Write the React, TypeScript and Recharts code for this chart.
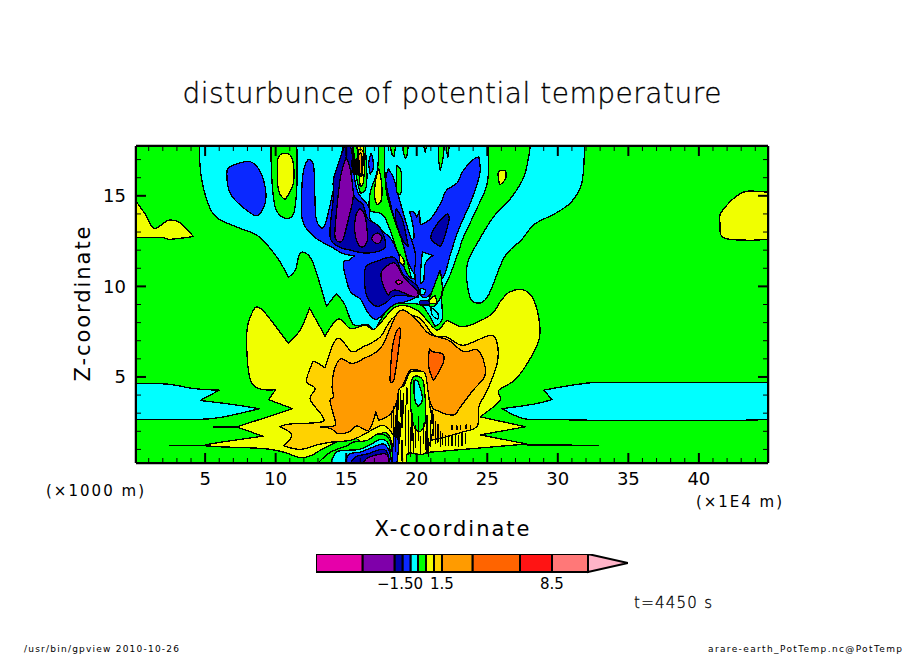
import React from 'react';
import { ScatterChart, Scatter, XAxis, YAxis, BarChart, Bar } from 'recharts';

type Pt = [number, number];

const CYAN = '#00ffff';
const GREEN = '#00ff00';
const YELLOW = '#f0ff00';
const GOLD = '#ffd200';
const ORANGE = '#ff9b00';
const DARK_ORANGE = '#ff6400';
const BLUE = '#0a28ff';
const NAVY = '#0000aa';
const PURPLE = '#7f00aa';
const MAGENTA = '#e600aa';

// axes
const xDomain: Pt = [0.1, 44.9];
const zDomain: Pt = [0.25, 17.75];
const xTicks = Array.from({ length: 44 }, (_, i) => i + 1);
const zTicks = Array.from({ length: 17 }, (_, i) => i + 1);

// contour outlines as [x, z]
const field: Pt[] = [[0.1, 0.25], [44.9, 0.25], [44.9, 17.75], [0.1, 17.75]];
const cyanUpper: Pt[] = [[4.6, 17.75], [4.7, 16.2], [5.2, 14.6], [5.9, 13.75], [7.5, 13.2], [8.8, 12.75], [10.1, 11.6], [10.9, 10.5], [11.4, 10.9], [11.7, 11.8], [12.2, 11.8], [12.7, 11.2], [13.6, 8.9], [14.3, 9.6], [14.9, 9], [15.5, 7.9], [16.5, 7.9], [17, 7.6], [17.4, 8.1], [18, 8.8], [18.5, 9.05], [20.2, 9], [20.8, 8.5], [21.3, 7.8], [21.8, 8.2], [21.8, 9.6], [22.4, 10.7], [23, 12], [23.3, 12.7], [24.2, 14.2], [25, 15.7], [25.1, 17.75]];
const cyanRight: Pt[] = [[28.05, 17.75], [31.9, 17.75], [31.7, 15.7], [31, 14.7], [30.2, 14.2], [29.5, 13.9], [28.3, 13.4], [27.4, 12.55], [26.2, 11.6], [25, 9.4], [24, 9.15], [23.6, 10], [23.6, 11.3], [24.3, 12.4], [25.45, 13.85], [26.6, 14.8], [27.6, 16.05]];
const cyanLowLeft: Pt[] = [[0.1, 4.64], [2.4, 4.6], [4.17, 4.36], [6, 4.27], [4.65, 3.7], [6.77, 3.5], [8.85, 3.25], [6.06, 2.76], [4.17, 2.65], [0.1, 2.65]];
const cyanLowRight: Pt[] = [[44.9, 4.64], [43.65, 4.7], [33.7, 4.7], [31.5, 4.6], [29, 4.27], [29.6, 3.75], [28.3, 3.5], [26.05, 3.25], [27.6, 2.7], [29.6, 2.65], [34, 2.6], [41.8, 2.6], [44.9, 2.65]];
const yellowLeft: Pt[] = [[0.1, 14.7], [0.74, 14], [1.38, 13.2], [2.4, 13.65], [3.23, 13.5], [4.17, 12.75], [2.5, 12.6], [1.93, 12.7], [0.1, 12.7]];
const yellowRight: Pt[] = [[44.9, 15.2], [43.4, 15.25], [42.7, 15], [42, 14.5], [41.5, 13.95], [41.5, 13.5], [41.7, 12.7], [43.4, 12.55], [44.9, 12.6]];
const yellowSpot: Pt[] = [[25.8, 16.35], [26.3, 16.4], [26.3, 15.95], [25.9, 15.6], [25.8, 15.9]];
const blueBlob: Pt[] = [[6.54, 16.15], [6.77, 16.6], [8.07, 16.9], [8.78, 16.5], [9.25, 15.5], [9.25, 14.6], [8.66, 13.9], [7.48, 14.5], [6.77, 15.15]];
const greenColumn: Pt[] = [[9.66, 17.75], [9.73, 15.9], [9.96, 14.4], [10.55, 13.8], [11.26, 14], [11.5, 15.5], [11.5, 17.75]];
const yellowColumn: Pt[] = [[10.15, 17], [10.67, 17.35], [11.2, 17], [11.26, 15.7], [10.67, 14.8], [10.2, 15.3]];
const blueMain: Pt[] = [[12.3, 17], [12, 16.5], [11.85, 15.3], [11.9, 13.65], [12.7, 12.75], [13.9, 12.2], [14.8, 11.8], [15.6, 11.7], [15.2, 11.45], [14.8, 11.35], [14.9, 10.7], [15.3, 9.7], [16, 9.3], [16.5, 8.6], [17, 8.2], [17.4, 8.3], [18.4, 9], [19.2, 9.15], [20.06, 9.5], [19.9, 10.35], [19.4, 10.6], [18.7, 11.8], [18.2, 12.6], [17.5, 13.1], [16.7, 13.7], [16.6, 14.4], [15.9, 15.1], [15.6, 15.9], [15.5, 17], [15.45, 17.75], [14.8, 17.75], [14.2, 15.7], [13.6, 13.65], [13.3, 13.2], [12.85, 13.85], [12.7, 16.6]];
const blueRight: Pt[] = [[24.4, 17.15], [24.5, 16.4], [24.3, 15.7], [23.8, 14.6], [23, 13.2], [22.4, 11.8], [22, 10.7], [21.55, 10.15], [20.7, 9.4], [20.06, 9.7], [19.9, 10.35], [19.8, 11.35], [19.5, 12.4], [19.8, 12.7], [19.7, 13.5], [19.5, 14.1], [19.8, 14.1], [20, 13.8], [20.2, 14.2], [20.25, 13.4], [21, 13.75], [21.7, 14.6], [22.1, 15.3], [22.85, 15.7], [23.3, 16.4], [24, 17]];
const blueLobe: Pt[] = [[18, 16.5], [17.8, 15.9], [18, 15], [18.5, 13.5], [19, 12.4], [19.3, 11.5], [19.8, 10.7], [19.9, 11.8], [19.4, 13.1], [18.7, 15], [18.4, 15.9]];
const blueSmall: Pt[] = [[16.75, 17.35], [16.9, 17], [16.9, 16.45], [16.7, 16.2], [16.6, 16.8]];
const navyLeft: Pt[] = [[14.9, 17.75], [14.6, 17.15], [14.1, 15.9], [14.1, 14.95], [13.85, 12.8], [14.45, 12.2], [15.3, 12], [16.2, 11.85], [17.1, 11.9], [17.8, 12.2], [17.5, 13.1], [17.1, 13.45], [16.5, 13.75], [16.2, 14.5], [15.6, 14.95], [15.3, 15.9], [15.5, 16.8], [15.3, 17.75]];
const navyLower: Pt[] = [[16.35, 11], [17.05, 11.35], [18.4, 11.6], [19, 10.7], [20.06, 10], [20.1, 9.4], [18.5, 9.5], [17.9, 9.15], [17.2, 8.9], [16.6, 9.25], [16.35, 9.8]];
const navyRight: Pt[] = [[22.15, 14], [22.3, 13.75], [22, 12.8], [21.7, 12.2], [21, 12.65], [21.4, 13.4]];
const navyLobe: Pt[] = [[18.55, 14.3], [19, 13.65], [19.4, 12.2], [19, 12.55], [18.5, 13.65]];
const purpleOne: Pt[] = [[15, 17.15], [15.3, 16.4], [15.5, 15], [15.2, 13.85], [14.8, 12.65], [14.5, 12.45], [14.2, 12.75], [14.3, 14], [14.6, 16.05]];
const purpleTwo: Pt[] = [[16, 14.3], [16.35, 13.85], [16.5, 12.55], [16.1, 12.15], [15.8, 12.4], [15.6, 13.1], [15.7, 13.95]];
const purpleThree: Pt[] = [[17.2, 12.95], [17.55, 12.65], [17.2, 12.35], [16.8, 12.65]];
const purpleBig: Pt[] = [[17.5, 10.8], [18.4, 11.3], [19, 10.6], [19.5, 10.15], [20.06, 9.7], [19.9, 9.4], [18.5, 9.8], [18, 9.5], [17.65, 10]];
const magentaDot: Pt[] = [[18.5, 10.25], [18.7, 10.35], [19, 10.25], [18.7, 10.1]];
const greenStrip: Pt[] = [[17.3, 17.75], [17.2, 16.4], [16.7, 15.15], [16.7, 14.2], [17.7, 13.85], [18.7, 11.8], [19.4, 10.6], [19.6, 10.5], [19, 12.4], [18.5, 13.5], [17.9, 15], [17.75, 16.15], [17.7, 17.75]];
const yellowStrip: Pt[] = [[17.3, 16.5], [17.5, 15.8], [17.5, 14.8], [17.2, 14.5], [17, 15], [17.1, 15.9]];
const yellowNeck: Pt[] = [[18.8, 11.75], [19.1, 11.45], [19.07, 11.1], [18.8, 11.36]];
const greenTop: Pt[] = [[15.5, 17.75], [15.6, 16.9], [15.76, 15.9], [16, 15.15], [16.35, 15.3], [16.47, 16.07], [16.35, 17.75]];
const yellowTop: Pt[] = [[15.76, 17.75], [15.9, 16.25], [16, 15.5], [16.2, 15.7], [16.3, 16.8], [16.2, 17.75]];
const goldTop: Pt[] = [[15.85, 17.45], [16.2, 17.45], [16.2, 16.8], [16.1, 16.05], [15.9, 16.25]];
const orangeTop: Pt[] = [[15.9, 17.26], [16.1, 17.26], [16.1, 16.4], [16, 16.15], [15.9, 16.6]];
const blackTop: Pt[] = [[15.4, 16.97], [15.9, 16.97], [15.9, 16.25], [15.5, 16.25]];
const greenDrips: Pt[][] = [
  [[18.12, 17.75], [18.5, 17.75], [18.4, 17.15], [18.25, 17.3]],
  [[19.07, 17.75], [19.4, 17.75], [19.3, 17.2], [19.2, 17.05], [19.05, 17.4]],
  [[20.5, 17.75], [20.7, 17.75], [20.6, 17.4]],
  [[21.55, 17.75], [21.95, 17.75], [21.85, 17], [21.67, 16.4], [21.55, 17]],
  [[22.07, 17.75], [22.3, 17.75], [22.2, 17.1]],
  [[18.6, 16.7], [18.9, 16.3], [18.9, 15.2], [18.6, 15.2], [18.55, 16]],
  [[20.84, 9.2], [21.66, 10.9], [21.8, 9.7], [21.3, 8.95], [20.84, 8.95]],
];
const cyanHoles: Pt[][] = [
  [[20.4, 11.9], [21.15, 11.7], [20.6, 11.26], [20.5, 10.35], [20.25, 10.16], [20.3, 11.1]],
  [[20.25, 9.9], [20.6, 9.8], [20.5, 9.55], [20.25, 9.6]],
  [[21, 8.85], [21.5, 8.5], [21.5, 8.2], [21.1, 8.4]],
];
const yellowCap: Pt[] = [[20.9, 9.25], [21.3, 9.5], [21.4, 9.1], [21, 9.05]];
const navySpot: Pt[] = [[20.25, 9.2], [20.85, 9.2], [20.85, 9], [20.25, 9]];
const yellowMain: Pt[] = [[7.95, 7.4], [8.43, 8.7], [8.9, 8.8], [9.5, 8.3], [10.9, 6.85], [11.74, 7.6], [12.4, 8.8], [12.9, 8.1], [13.5, 7.25], [14.45, 8.2], [15.3, 7.67], [16.35, 7.85], [17.06, 7.67], [18.5, 8.87], [20, 8.7], [21.4, 7.6], [22.15, 8.1], [23.3, 7.77], [25.2, 8.4], [26, 9.24], [26.6, 9.7], [27.6, 9.8], [28.3, 9.24], [28.7, 8], [28.65, 7], [27.8, 5.7], [26.9, 4.8], [25.8, 4.25], [25.9, 3.7], [24.5, 2.8], [27.7, 2.25], [24.5, 1.8], [27.8, 1.3], [23.3, 1], [21, 0.85], [19.5, 0.77], [18.6, 0.4], [18, 1.8], [17.4, 1.85], [16.2, 1.4], [15.3, 1.7], [13.4, 1.05], [12.56, 0.68], [11.74, 0.55], [10.55, 0.85], [9.1, 1.05], [5.35, 1.17], [5.35, 1.3], [9.1, 1.73], [7.25, 2.24], [11.2, 3.25], [9.5, 3.75], [10, 4.3], [8.3, 4.67]];
const goldMain: Pt[] = [[12.8, 5.83], [13.5, 5.5], [14.1, 6.85], [14.6, 7.1], [15.4, 6.4], [16.2, 6.66], [17.4, 7.2], [18.4, 8.3], [20.1, 8.3], [21.2, 7.3], [22.15, 7.2], [23.3, 6.75], [25.2, 7.3], [25.7, 6.85], [25.7, 5.74], [25, 4.27], [24.4, 3.35], [24.3, 2.3], [23.3, 1.97], [21, 1.5], [19, 1.3], [18, 2.15], [17.4, 2.3], [16.2, 1.8], [15.3, 1.5], [13.9, 1.4], [12.9, 1.24], [11.74, 1], [10.55, 1.2], [11.15, 1.8], [10.3, 2.24], [11, 2.4], [13.15, 2.5], [13.35, 2.8], [12.45, 3.75], [12.8, 4.36], [12.2, 4.76], [12.56, 5.7]];
const orangeMain: Pt[] = [[14.6, 6], [15.4, 5.74], [16.2, 6], [17.5, 6.66], [18.7, 8.6], [19.8, 8.3], [20.85, 7.4], [22.25, 7.03], [23.3, 6.4], [24.3, 6.5], [24.8, 5.74], [24.8, 5], [24, 4.27], [23.1, 3.35], [22.6, 2.9], [21.4, 3.16], [21, 3.5], [20.6, 4.8], [20.25, 5.3], [19.55, 5.37], [19.07, 4.64], [18.7, 3.9], [18.2, 3], [17.3, 2.6], [17.1, 3.07], [16.6, 2.06], [15.76, 2.3], [15.2, 1.97], [14.45, 1.87], [13.9, 2.15], [13.15, 2.24], [14.2, 2.33], [14.1, 2.9], [13.85, 3.7], [14.1, 3.9], [14, 4.45], [14.15, 5.37]];
const darkOrangeOne: Pt[] = [[18.7, 7.67], [18.84, 7.4], [18.4, 4.9], [18.1, 4.8], [18.25, 6.5], [18.5, 7.4]];
const darkOrangeTwo: Pt[] = [[20.9, 6.57], [21.1, 6.4], [21.86, 6.25], [21.86, 5.74], [21.2, 4.8], [20.85, 5.56]];
const yellowDome: Pt[] = [[19.3, 4.9], [19.55, 5.28], [20.5, 5.28], [20.7, 4.8], [20.96, 3.25], [21.2, 2.3], [20.6, 0.8], [19.4, 0.8], [19.3, 0.25], [18.24, 0.25], [18.5, 2.5], [18.7, 4.2], [19.07, 4.5]];
const greenDome: Pt[] = [[19.7, 4.95], [20.4, 4.87], [20.6, 3.8], [20.6, 2.5], [20.25, 1.97], [19.8, 2.3], [19.54, 3.8]];
const cyanDome: Pt[] = [[19.8, 4.8], [20.1, 4.73], [20.4, 3.8], [20.1, 3.35], [19.85, 3.8]];
const blueColumn: Pt[] = [[18.6, 2.5], [18.8, 2.3], [18.7, 1], [18.6, 0.25], [18.24, 0.25], [18.36, 1.6]];
const blackColumn: Pt[] = [[18.67, 2.5], [18.83, 2.4], [18.8, 1.6], [18.6, 1.65]];
const greenBase: Pt[] = [[13, 0.25], [13.9, 0.85], [15.05, 1.2], [15.5, 1.4], [16.5, 1.5], [17.3, 1.86], [18.1, 1.5], [18.3, 0.25]];
const cyanBase: Pt[] = [[13.9, 0.25], [14.3, 0.85], [15.05, 0.95], [15.9, 1], [16.7, 1.25], [17.4, 1.55], [18, 1.3], [18.2, 0.25]];
const blueBase: Pt[] = [[14.9, 0.25], [15.25, 0.75], [16, 0.85], [16.6, 1.03], [17.65, 1.3], [18.1, 0.8], [18.2, 0.25]];
const navyBase: Pt[] = [[15.3, 0.25], [15.7, 0.6], [16.5, 0.75], [17.7, 1], [18.1, 0.25]];
const purpleBase: Pt[] = [[16.2, 0.25], [16.6, 0.57], [17.8, 0.75], [18, 0.25]];

// ringing in the lower middle: [x, lower z, upper z]
const ringing: [number, number, number][] = [
  [18.36, 1.5, 3.35], [18.6, 1.87, 3.72], [18.83, 2.8, 4.27], [19.07, 2.98, 4.08], [19.43, 0.77, 3.16], [19.66, 1.5, 2.98],
  [20.13, 1.5, 2.8], [20.49, 1.32, 2.43], [20.73, 0.77, 2.89], [19.78, 0.77, 1.87], [18.95, 0.4, 1.5], [20.96, 1.14, 2.61],
  [21.08, 2.43, 3.16], [21.32, 1.32, 2.52], [21.67, 1.14, 1.97], [22.03, 1.23, 1.78], [22.26, 1.23, 1.78], [22.5, 1.23, 1.78],
  [22.74, 1.23, 1.78], [22.97, 1.14, 1.78], [23.21, 1.23, 1.87], [23.44, 1.32, 1.87], [22.5, 2.1, 2.3], [22.85, 2.1, 2.3],
  [23.1, 2.1, 2.3], [23.5, 2.15, 2.35], [23.8, 2.1, 2.3],
  [18.2, 2.2, 3.1], [18.48, 0.9, 2.5], [18.72, 3.2, 4.3], [18.95, 2.2, 3.7], [19.2, 1.2, 3.4], [19.3, 3.5, 4.4], [19.55, 0.6, 2.2],
  [19.9, 1.1, 2.3], [20.25, 0.7, 1.7], [20.6, 1, 2], [20.85, 0.6, 1.6], [21.2, 1.8, 2.9], [21.5, 1.4, 2.4], [21.85, 1.3, 1.9],
];
// thin spikes
const spikes: Pt[][] = [
  [[2.5, 1.2], [3.2, 1.2]],
  [[3.2, 1.23], [5.4, 1.23]],
  [[5.6, 2.24], [7.25, 2.24]],
  [[27.8, 1.25], [31, 1.25]],
  [[31, 1.22], [32.9, 1.2]],
];

const layers: [Pt[], string][] = [
  [field, GREEN],
  [cyanUpper, CYAN], [cyanRight, CYAN], [cyanLowLeft, CYAN], [cyanLowRight, CYAN],
  [yellowLeft, YELLOW], [yellowRight, YELLOW], [yellowSpot, YELLOW],
  [blueBlob, BLUE], [greenColumn, GREEN], [yellowColumn, YELLOW],
  [blueMain, BLUE], [blueRight, BLUE], [blueLobe, BLUE], [blueSmall, BLUE],
  [navyLeft, NAVY], [navyLower, NAVY], [navyRight, NAVY], [navyLobe, NAVY],
  [purpleOne, PURPLE], [purpleTwo, PURPLE], [purpleThree, PURPLE], [purpleBig, PURPLE], [magentaDot, MAGENTA],
  [greenStrip, GREEN], [yellowStrip, YELLOW], [yellowNeck, YELLOW],
  [greenTop, GREEN], [yellowTop, YELLOW], [goldTop, GOLD], [orangeTop, ORANGE], [blackTop, '#000'],
  ...greenDrips.map((d): [Pt[], string] => [d, GREEN]),
  ...cyanHoles.map((d): [Pt[], string] => [d, CYAN]),
  [yellowCap, YELLOW], [navySpot, NAVY],
  [yellowMain, YELLOW], [goldMain, GOLD], [orangeMain, ORANGE], [darkOrangeOne, DARK_ORANGE], [darkOrangeTwo, DARK_ORANGE],
  [yellowDome, YELLOW], [greenDome, GREEN], [cyanDome, CYAN], [blueColumn, BLUE], [blackColumn, '#000'],
  [greenBase, GREEN], [cyanBase, CYAN], [blueBase, BLUE], [navyBase, NAVY], [purpleBase, PURPLE],
  ...ringing.map(([x, lo, hi]): [Pt[], string] => [[[x, lo], [x, hi]], '#000']),
  ...spikes.map((s): [Pt[], string] => [s, '#000']),
];

// colour bar
const bandLengths = [46.7, 32, 8, 8, 7.3, 8, 8, 8, 30.7, 47.3, 32, 36, 40];
const bandColors = [MAGENTA, PURPLE, NAVY, BLUE, CYAN, GREEN, YELLOW, GOLD, ORANGE, DARK_ORANGE, '#ff1414', '#ff7878', '#ffb4c8'];
const bandTicks = [84, 126, 236];
const bandLabels = ['\u22121.50', '1.5', '8.5'];
const bandRow: Record<string, number | string> = { name: 'levels' };
bandLengths.forEach((v, i) => { bandRow[`b${i}`] = v; });

const FONT = '"DejaVu Sans", sans-serif';

const noPoint = () => <g />;

const onEdge = ([x, z]: Pt) => x === xDomain[0] || x === xDomain[1] || z === zDomain[0] || z === zDomain[1];

// closed curve through the outline points, sharp turns and frame points stay corners
function curvePath(pts: { x: number; y: number }[], src: Pt[]) {
  const n = pts.length;
  if (n < 4) return pts.map((q, i) => `${i ? 'L' : 'M'}${q.x} ${q.y}`).join(' ') + ' Z';
  const tan = pts.map((q, i) => {
    const a = pts[(i + n - 1) % n];
    const b = pts[(i + 1) % n];
    const ux = q.x - a.x, uy = q.y - a.y, vx = b.x - q.x, vy = b.y - q.y;
    const cos = (ux * vx + uy * vy) / (Math.hypot(ux, uy) * Math.hypot(vx, vy) || 1);
    if (cos < -0.1 || onEdge(src[i])) return { x: 0, y: 0 };
    return { x: (b.x - a.x) / 6, y: (b.y - a.y) / 6 };
  });
  let d = `M${pts[0].x} ${pts[0].y}`;
  for (let i = 0; i < n; i++) {
    const j = (i + 1) % n;
    d += ` C${pts[i].x + tan[i].x} ${pts[i].y + tan[i].y} ${pts[j].x - tan[j].x} ${pts[j].y - tan[j].y} ${pts[j].x} ${pts[j].y}`;
  }
  return d + ' Z';
}

function outline(fill: string, src: Pt[]) {
  return (p: any) => (
    <path d={curvePath(p.points, src)} fill={fill} stroke="#000" strokeWidth={1.3} strokeLinejoin="round" shapeRendering="crispEdges" />
  );
}

const bottomTick = (p: any) => {
  const major = p.payload.value % 5 === 0;
  return (
    <g>
      <line x1={p.x} x2={p.x} y1={p.y} y2={p.y - (major ? 10 : 5)} stroke="#000" strokeWidth={major ? 2 : 1} />
      {major && <text x={p.x} y={p.y + 15} textAnchor="middle" dominantBaseline="central" fontSize={18} fontFamily={FONT}>{p.payload.value}</text>}
    </g>
  );
};
const topTick = (p: any) => {
  const major = p.payload.value % 5 === 0;
  return <line x1={p.x} x2={p.x} y1={p.y} y2={p.y + (major ? 10 : 5)} stroke="#000" strokeWidth={major ? 2 : 1} />;
};
const leftTick = (p: any) => {
  const major = p.payload.value % 5 === 0;
  return (
    <g>
      <line x1={p.x} x2={p.x + (major ? 10 : 5)} y1={p.y} y2={p.y} stroke="#000" strokeWidth={major ? 2 : 1} />
      {major && <text x={p.x - 10} y={p.y} textAnchor="end" dominantBaseline="central" fontSize={18} fontFamily={FONT}>{p.payload.value}</text>}
    </g>
  );
};
const rightTick = (p: any) => {
  const major = p.payload.value % 5 === 0;
  return <line x1={p.x} x2={p.x - (major ? 10 : 5)} y1={p.y} y2={p.y} stroke="#000" strokeWidth={major ? 2 : 1} />;
};

const tipShape = (p: any) => (
  <polygon points={`${p.x},${p.y} ${p.x + p.width},${p.y + p.height / 2} ${p.x},${p.y + p.height}`} fill={p.fill} stroke="#000" strokeWidth={2} />
);

export default function App() {
  const frame = { stroke: '#000', strokeWidth: 2.5 };
  const thin = { fontWeight: 200, stroke: '#000', strokeWidth: 0.3 };
  return (
    <div style={{ position: 'absolute', left: 0, top: 0, width: 904, height: 654, background: '#fff' }}>
      <ScatterChart width={904} height={654} margin={{ top: 145, right: 135, bottom: 190, left: 135 }}>
        {layers.map(([pts, fill], i) => (
          <Scatter
            key={i}
            data={pts.map(([x, z]) => ({ x, z }))}
            dataKey="z"
            isAnimationActive={false}
            shape={noPoint}
            line={outline(fill, pts)}
          />
        ))}
        <XAxis type="number" dataKey="x" domain={xDomain} ticks={xTicks} interval={0} height={1} tickSize={0} tickMargin={0} tick={bottomTick} tickLine={false} axisLine={frame} allowDataOverflow />
        <XAxis xAxisId="top" orientation="top" type="number" dataKey="x" domain={xDomain} ticks={xTicks} interval={0} height={1} tickSize={0} tickMargin={0} tick={topTick} tickLine={false} axisLine={frame} allowDataOverflow />
        <YAxis type="number" dataKey="z" domain={zDomain} ticks={zTicks} interval={0} width={1} tickSize={0} tickMargin={0} tick={leftTick} tickLine={false} axisLine={frame} allowDataOverflow />
        <YAxis yAxisId="right" orientation="right" type="number" dataKey="z" domain={zDomain} ticks={zTicks} interval={0} width={1} tickSize={0} tickMargin={0} tick={rightTick} tickLine={false} axisLine={frame} allowDataOverflow />
        <text x={452} y={93} textAnchor="middle" dominantBaseline="central" fontSize={28} fontFamily={FONT} textLength={539} lengthAdjust="spacing" {...thin}>disturbunce of potential temperature</text>
        <text x={452} y={529} textAnchor="middle" dominantBaseline="central" fontSize={21} fontFamily={FONT} textLength={155} lengthAdjust="spacing">X-coordinate</text>
        <text x={83} y={304} textAnchor="middle" dominantBaseline="central" fontSize={21} fontFamily={FONT} textLength={155} lengthAdjust="spacing" transform="rotate(-90 83 304)">Z-coordinate</text>
        <text x={95} y={491} textAnchor="middle" dominantBaseline="central" fontSize={15} fontFamily={FONT} textLength={98} lengthAdjust="spacing">(&#215;1000 m)</text>
        <text x={739} y={502} textAnchor="middle" dominantBaseline="central" fontSize={15} fontFamily={FONT} textLength={86} lengthAdjust="spacing">(&#215;1E4 m)</text>
        <text x={673} y={603} textAnchor="middle" dominantBaseline="central" fontSize={15} fontFamily={FONT} textLength={78} lengthAdjust="spacing" {...thin}>t=4450 s</text>
        <text x={24} y={649} dominantBaseline="central" fontSize={9} fontFamily={FONT} textLength={155} lengthAdjust="spacing">/usr/bin/gpview  2010-10-26</text>
        <text x={708} y={649} dominantBaseline="central" fontSize={9} fontFamily={FONT} textLength={194} lengthAdjust="spacing">arare-earth_PotTemp.nc@PotTemp</text>
      </ScatterChart>
      <div style={{ position: 'absolute', left: 316, top: 554 }}>
        <BarChart width={312} height={42} layout="vertical" data={[bandRow]} margin={{ top: 0, right: 0, bottom: 0, left: 0 }} barCategoryGap={0}>
          <XAxis
            type="number"
            domain={[0, 312]}
            ticks={bandTicks}
            interval={0}
            tickLine={false}
            axisLine={false}
            height={24}
            tickMargin={6}
            tickSize={0}
            tickFormatter={(v: number) => bandLabels[bandTicks.indexOf(v)]}
            tick={{ fontSize: 15, fontFamily: FONT, fill: '#000' }}
            allowDataOverflow
          />
          <YAxis type="category" dataKey="name" hide />
          {bandLengths.map((_, i) => (
            <Bar
              key={i}
              dataKey={`b${i}`}
              stackId="bar"
              fill={bandColors[i]}
              stroke="#000"
              strokeWidth={2}
              isAnimationActive={false}
              shape={i === bandLengths.length - 1 ? tipShape : undefined}
            />
          ))}
        </BarChart>
      </div>
    </div>
  );
}
